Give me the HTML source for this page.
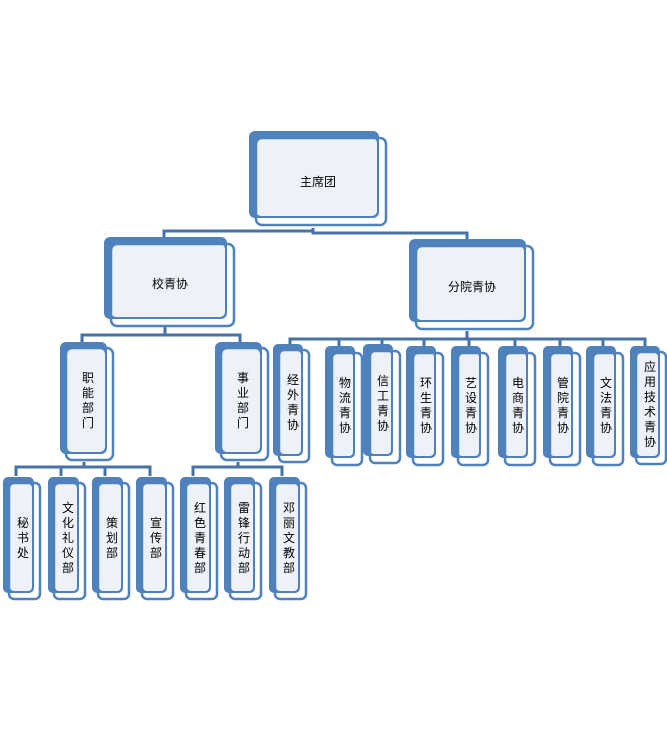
<!DOCTYPE html>
<html><head><meta charset="utf-8"><style>
html,body{margin:0;padding:0;background:#fff;}
svg{display:block;}
text{font-family:"Liberation Sans","Noto Sans CJK SC",sans-serif;font-size:12px;fill:#000;text-anchor:middle;}
.b{fill:#4f81bd;}
.l{fill:#edf2f9;}
.f{fill:none;stroke:#4f81bd;stroke-width:2.5;}
</style></head><body>
<svg width="667" height="732" viewBox="0 0 667 732" xmlns="http://www.w3.org/2000/svg">
<g stroke="#4672a8" stroke-width="3" fill="none">
<path d="M313 228 V231 M164 238 V231 H313 M313 231 V233 H467 V240"/>
<path d="M165 327 V335 M82 342 V335 H240 V342"/>
<path d="M467 331 V338 M290 346 V339 H645 V346 M339 339 V346 M382 339 V346 M424 339 V346 M469 339 V346 M515 339 V346 M560 339 V346 M603 339 V346"/>
<path d="M84 462 V467 M16 476 V467 H150 V476 M61 467 V476 M105 467 V476"/>
<path d="M238 462 V467 M193 476 V467 H282 V476"/>
</g>

<rect class="b" x="249" y="131" width="130" height="87" rx="6"/>
<rect class="l" x="256" y="138" width="121" height="78" rx="5"/>
<rect class="f" x="256" y="138" width="130" height="87" rx="6"/>
<text x="318" y="186">主席团</text>

<rect class="b" x="104" y="237" width="123" height="82" rx="6"/>
<rect class="l" x="111" y="244" width="114" height="73" rx="5"/>
<rect class="f" x="111" y="244" width="123" height="82" rx="6"/>
<text x="170" y="288">校青协</text>

<rect class="b" x="409" y="239" width="117" height="83" rx="6"/>
<rect class="l" x="416" y="246" width="108" height="74" rx="5"/>
<rect class="f" x="416" y="246" width="117" height="83" rx="6"/>
<text x="472" y="291">分院青协</text>

<rect class="b" x="60" y="342" width="47" height="112" rx="6"/>
<rect class="l" x="67" y="349" width="38" height="103" rx="5"/>
<rect class="f" x="66" y="348" width="47" height="112" rx="6"/>
<text x="88" y="382"><tspan x="88">职</tspan><tspan x="88" dy="15">能</tspan><tspan x="88" dy="15">部</tspan><tspan x="88" dy="15">门</tspan></text>

<rect class="b" x="215" y="342" width="47" height="112" rx="6"/>
<rect class="l" x="222" y="349" width="38" height="103" rx="5"/>
<rect class="f" x="221" y="348" width="47" height="112" rx="6"/>
<text x="243" y="382"><tspan x="243">事</tspan><tspan x="243" dy="15">业</tspan><tspan x="243" dy="15">部</tspan><tspan x="243" dy="15">门</tspan></text>

<rect class="b" x="3" y="477" width="31" height="116" rx="5"/>
<rect class="l" x="10" y="484" width="22" height="107" rx="4"/>
<rect class="f" x="9" y="483" width="31" height="116" rx="5"/>
<text x="23" y="527"><tspan x="23">秘</tspan><tspan x="23" dy="15">书</tspan><tspan x="23" dy="15">处</tspan></text>

<rect class="b" x="48" y="477" width="31" height="116" rx="5"/>
<rect class="l" x="55" y="484" width="22" height="107" rx="4"/>
<rect class="f" x="54" y="483" width="31" height="116" rx="5"/>
<text x="68" y="512"><tspan x="68">文</tspan><tspan x="68" dy="15">化</tspan><tspan x="68" dy="15">礼</tspan><tspan x="68" dy="15">仪</tspan><tspan x="68" dy="15">部</tspan></text>

<rect class="b" x="92" y="477" width="31" height="116" rx="5"/>
<rect class="l" x="99" y="484" width="22" height="107" rx="4"/>
<rect class="f" x="98" y="483" width="31" height="116" rx="5"/>
<text x="112" y="527"><tspan x="112">策</tspan><tspan x="112" dy="15">划</tspan><tspan x="112" dy="15">部</tspan></text>

<rect class="b" x="136" y="477" width="31" height="116" rx="5"/>
<rect class="l" x="143" y="484" width="22" height="107" rx="4"/>
<rect class="f" x="142" y="483" width="31" height="116" rx="5"/>
<text x="156" y="527"><tspan x="156">宣</tspan><tspan x="156" dy="15">传</tspan><tspan x="156" dy="15">部</tspan></text>

<rect class="b" x="180" y="477" width="31" height="116" rx="5"/>
<rect class="l" x="187" y="484" width="22" height="107" rx="4"/>
<rect class="f" x="186" y="483" width="31" height="116" rx="5"/>
<text x="200" y="512"><tspan x="200">红</tspan><tspan x="200" dy="15">色</tspan><tspan x="200" dy="15">青</tspan><tspan x="200" dy="15">春</tspan><tspan x="200" dy="15">部</tspan></text>

<rect class="b" x="224" y="477" width="31" height="116" rx="5"/>
<rect class="l" x="231" y="484" width="22" height="107" rx="4"/>
<rect class="f" x="230" y="483" width="31" height="116" rx="5"/>
<text x="244" y="512"><tspan x="244">雷</tspan><tspan x="244" dy="15">锋</tspan><tspan x="244" dy="15">行</tspan><tspan x="244" dy="15">动</tspan><tspan x="244" dy="15">部</tspan></text>

<rect class="b" x="269" y="477" width="31" height="116" rx="5"/>
<rect class="l" x="276" y="484" width="22" height="107" rx="4"/>
<rect class="f" x="275" y="483" width="31" height="116" rx="5"/>
<text x="289" y="512"><tspan x="289">邓</tspan><tspan x="289" dy="15">丽</tspan><tspan x="289" dy="15">文</tspan><tspan x="289" dy="15">教</tspan><tspan x="289" dy="15">部</tspan></text>

<rect class="b" x="273" y="344" width="30" height="112" rx="5"/>
<rect class="l" x="280" y="351" width="21" height="103" rx="4"/>
<rect class="f" x="279" y="350" width="30" height="112" rx="5"/>
<text x="293" y="384"><tspan x="293">经</tspan><tspan x="293" dy="15">外</tspan><tspan x="293" dy="15">青</tspan><tspan x="293" dy="15">协</tspan></text>

<rect class="b" x="325" y="346" width="30" height="112" rx="5"/>
<rect class="l" x="332" y="353" width="21" height="103" rx="4"/>
<rect class="f" x="332" y="353" width="30" height="112" rx="5"/>
<text x="345" y="387"><tspan x="345">物</tspan><tspan x="345" dy="15">流</tspan><tspan x="345" dy="15">青</tspan><tspan x="345" dy="15">协</tspan></text>

<rect class="b" x="363" y="344" width="30" height="112" rx="5"/>
<rect class="l" x="370" y="351" width="21" height="103" rx="4"/>
<rect class="f" x="370" y="351" width="30" height="112" rx="5"/>
<text x="383" y="385"><tspan x="383">信</tspan><tspan x="383" dy="15">工</tspan><tspan x="383" dy="15">青</tspan><tspan x="383" dy="15">协</tspan></text>

<rect class="b" x="406" y="346" width="30" height="112" rx="5"/>
<rect class="l" x="413" y="353" width="21" height="103" rx="4"/>
<rect class="f" x="413" y="353" width="30" height="112" rx="5"/>
<text x="426" y="387"><tspan x="426">环</tspan><tspan x="426" dy="15">生</tspan><tspan x="426" dy="15">青</tspan><tspan x="426" dy="15">协</tspan></text>

<rect class="b" x="451" y="346" width="30" height="112" rx="5"/>
<rect class="l" x="458" y="353" width="21" height="103" rx="4"/>
<rect class="f" x="458" y="353" width="30" height="112" rx="5"/>
<text x="471" y="387"><tspan x="471">艺</tspan><tspan x="471" dy="15">设</tspan><tspan x="471" dy="15">青</tspan><tspan x="471" dy="15">协</tspan></text>

<rect class="b" x="498" y="346" width="30" height="112" rx="5"/>
<rect class="l" x="505" y="353" width="21" height="103" rx="4"/>
<rect class="f" x="505" y="353" width="30" height="112" rx="5"/>
<text x="518" y="387"><tspan x="518">电</tspan><tspan x="518" dy="15">商</tspan><tspan x="518" dy="15">青</tspan><tspan x="518" dy="15">协</tspan></text>

<rect class="b" x="543" y="346" width="30" height="112" rx="5"/>
<rect class="l" x="550" y="353" width="21" height="103" rx="4"/>
<rect class="f" x="550" y="353" width="30" height="112" rx="5"/>
<text x="563" y="387"><tspan x="563">管</tspan><tspan x="563" dy="15">院</tspan><tspan x="563" dy="15">青</tspan><tspan x="563" dy="15">协</tspan></text>

<rect class="b" x="586" y="346" width="30" height="112" rx="5"/>
<rect class="l" x="593" y="353" width="21" height="103" rx="4"/>
<rect class="f" x="593" y="353" width="30" height="112" rx="5"/>
<text x="606" y="387"><tspan x="606">文</tspan><tspan x="606" dy="15">法</tspan><tspan x="606" dy="15">青</tspan><tspan x="606" dy="15">协</tspan></text>

<rect class="b" x="630" y="346" width="30" height="112" rx="5"/>
<rect class="l" x="637" y="353" width="21" height="103" rx="4"/>
<rect class="f" x="636" y="352" width="30" height="112" rx="5"/>
<text x="650" y="371"><tspan x="650">应</tspan><tspan x="650" dy="15">用</tspan><tspan x="650" dy="15">技</tspan><tspan x="650" dy="15">术</tspan><tspan x="650" dy="15">青</tspan><tspan x="650" dy="15">协</tspan></text>
</svg>
</body></html>
